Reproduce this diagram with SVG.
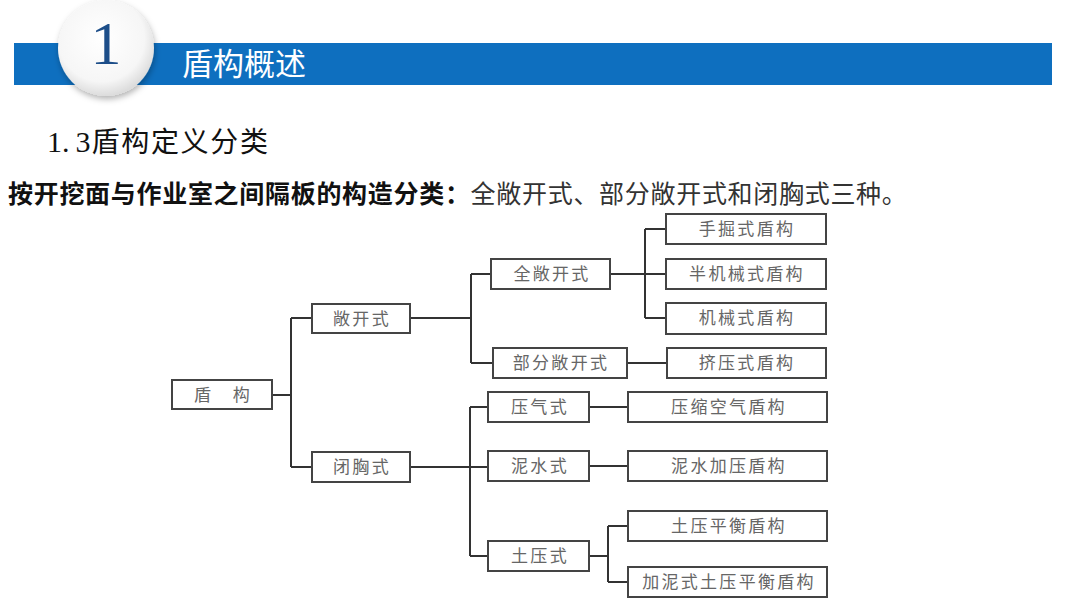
<svg xmlns="http://www.w3.org/2000/svg" width="1080" height="607" viewBox="0 0 1080 607">
<defs>
  <radialGradient id="cg" cx="0.45" cy="0.4" r="0.6">
    <stop offset="0" stop-color="#ffffff"/>
    <stop offset="0.75" stop-color="#f6f6f6"/>
    <stop offset="1" stop-color="#dcdcdc"/>
  </radialGradient>
  <filter id="sh" x="-30%" y="-30%" width="160%" height="160%">
    <feDropShadow dx="1" dy="3" stdDeviation="3" flood-color="#000" flood-opacity="0.3"/>
  </filter>
</defs>
<style>
  .box{fill:#fff;stroke:#444;stroke-width:2}
  .lbl{font-family:"Noto Sans CJK SC","Liberation Serif",serif;font-size:17px;fill:#666;text-anchor:middle;letter-spacing:2.3px}
  .con{fill:none;stroke:#333;stroke-width:2}
</style>
<rect width="1080" height="607" fill="#fff"/>
<g id="header">
  <rect x="14" y="43" width="1038" height="42" fill="#0e6fbf"/>
  <circle cx="106" cy="48" r="48" fill="url(#cg)" filter="url(#sh)"/>
  <text x="106" y="64" font-family="Liberation Serif,serif" font-size="62" fill="#1d4e89" text-anchor="middle">1</text>
  <text x="182" y="75" font-family="Noto Sans CJK SC,sans-serif" font-size="31" fill="#fff">盾构概述</text>
</g>
<g id="title">
  <text x="47" y="152" font-family="Liberation Serif,Noto Sans CJK SC,serif" font-size="30" fill="#111"><tspan>1.</tspan><tspan dx="6">3</tspan><tspan font-family="Noto Sans CJK SC,sans-serif" font-size="28" letter-spacing="1.7" dx="1">盾构定义分类</tspan></text>
  <text x="8" y="203" font-family="Noto Sans CJK SC,sans-serif" font-size="25" letter-spacing="0.7" fill="#111"><tspan font-weight="bold">按开挖面与作业室之间隔板的构造分类：</tspan><tspan fill="#333">全敞开式、部分敞开式和闭胸式三种。</tspan></text>
</g>
<g id="connectors">
  <path class="con" d="M272 395H291M291 318V467M291 318H312M291 467H312"/>
  <path class="con" d="M410 318H471M471 274V363M471 274H491M471 363H493"/>
  <path class="con" d="M610 274H666M645 229V318M645 229H666M645 318H666"/>
  <path class="con" d="M627 363H667"/>
  <path class="con" d="M410 467H488M470 407V556M470 407H488M470 556H488"/>
  <path class="con" d="M589 407H628M589 466H628"/>
  <path class="con" d="M589 556H608M608 526V582M608 526H628M608 582H628"/>
</g>
<g id="n-dungou"><rect class="box" x="172" y="380" width="100" height="29"/><text class="lbl" x="223" y="401">盾　构</text></g>
<g id="n-changkai"><rect class="box" x="312" y="304" width="98" height="29"/><text class="lbl" x="362" y="325">敞开式</text></g>
<g id="n-bixiong"><rect class="box" x="312" y="452" width="98" height="30"/><text class="lbl" x="362" y="473">闭胸式</text></g>
<g id="n-quanchang"><rect class="box" x="491" y="259" width="119" height="30"/><text class="lbl" x="552" y="280">全敞开式</text></g>
<g id="n-bufen"><rect class="box" x="493" y="348" width="134" height="30"/><text class="lbl" x="561" y="369">部分敞开式</text></g>
<g id="n-shoujue"><rect class="box" x="666" y="214" width="160" height="30"/><text class="lbl" x="747" y="235">手掘式盾构</text></g>
<g id="n-banjixie"><rect class="box" x="666" y="259" width="160" height="30"/><text class="lbl" x="747" y="280">半机械式盾构</text></g>
<g id="n-jixie"><rect class="box" x="666" y="303" width="160" height="31"/><text class="lbl" x="747" y="324">机械式盾构</text></g>
<g id="n-jiya"><rect class="box" x="667" y="348" width="159" height="30"/><text class="lbl" x="747" y="369">挤压式盾构</text></g>
<g id="n-yaqi"><rect class="box" x="488" y="392" width="101" height="30"/><text class="lbl" x="540" y="413">压气式</text></g>
<g id="n-nishui"><rect class="box" x="488" y="451" width="101" height="30"/><text class="lbl" x="540" y="472">泥水式</text></g>
<g id="n-tuya"><rect class="box" x="488" y="541" width="101" height="30"/><text class="lbl" x="540" y="562">土压式</text></g>
<g id="n-yasuo"><rect class="box" x="628" y="392" width="199" height="30"/><text class="lbl" x="729" y="413">压缩空气盾构</text></g>
<g id="n-nishuijiaya"><rect class="box" x="628" y="451" width="199" height="30"/><text class="lbl" x="729" y="472">泥水加压盾构</text></g>
<g id="n-tuyapingheng"><rect class="box" x="628" y="511" width="199" height="30"/><text class="lbl" x="729" y="532">土压平衡盾构</text></g>
<g id="n-jiani"><rect class="box" x="628" y="567" width="199" height="30"/><text class="lbl" x="729" y="588">加泥式土压平衡盾构</text></g>
</svg>
